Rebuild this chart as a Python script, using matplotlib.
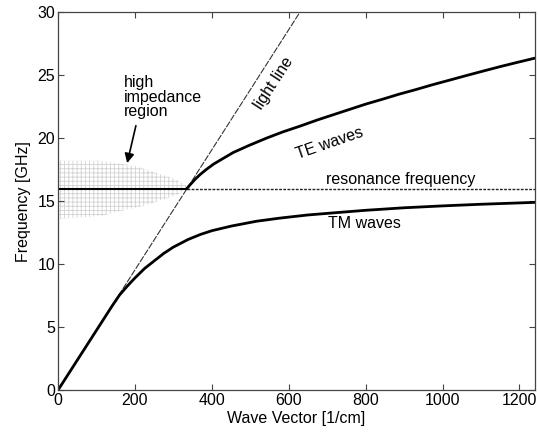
import matplotlib
matplotlib.use("Agg")
import matplotlib.pyplot as plt
from matplotlib.patches import Polygon

plt.rcParams['font.family'] = ['Liberation Sans', 'DejaVu Sans']
plt.rcParams['hatch.linewidth'] = 0.6

# Dispersion data: wave vector k [1/cm] and frequency [GHz]
tm_k = [0, 80, 140, 160, 180, 200, 225, 252, 275, 300, 338, 370, 400, 451,
        516, 577, 650, 730, 800, 900, 1000, 1100, 1240]
tm_f = [0, 3.8, 6.65, 7.55, 8.25, 8.9, 9.65, 10.3, 10.85, 11.35, 11.95, 12.35,
        12.65, 13.02, 13.4, 13.65, 13.9, 14.1, 14.27, 14.47, 14.62, 14.75, 14.9]

te_k = [335, 345, 357, 369, 385, 405, 430, 455, 495, 542, 585, 629, 675, 715,
        760, 800, 845, 888, 930, 975, 1020, 1062, 1105, 1150, 1195, 1240]
te_f = [16.0, 16.35, 16.75, 17.1, 17.5, 17.95, 18.4, 18.85, 19.4, 20.0, 20.5,
        20.95, 21.45, 21.85, 22.3, 22.7, 23.1, 23.5, 23.85, 24.25, 24.62, 24.97,
        25.32, 25.68, 26.02, 26.35]

light_k = [0, 629]
light_f = [0, 30]

resonance_f = 16.0
resonance_cross_k = 335
k_max = 1240

# Outline of the high impedance band
band_k = [0, 110, 200, 260, 300, 330, 345, 310, 260, 220, 160, 110, 0]
band_f = [18.2, 18.2, 17.8, 17.2, 16.8, 16.3, 16.0, 15.5, 15.0, 14.6, 14.2, 13.8, 13.6]

x_ticks = [0, 200, 400, 600, 800, 1000, 1200]
y_ticks = [0, 5, 10, 15, 20, 25, 30]

fig = plt.figure(figsize=(5.38, 4.36), dpi=100)
ax = fig.add_axes([0.108, 0.1055, 0.886, 0.8665])

band = Polygon(list(zip(band_k, band_f)), closed=True, facecolor='none',
               edgecolor='#d2d2d2', hatch='++++', linewidth=0)
ax.add_patch(band)

ax.plot(light_k, light_f, color='#333333', lw=0.8, dashes=(6, 1.2))
ax.plot([0, resonance_cross_k], [resonance_f, resonance_f], color='black', lw=1.5)
ax.plot([resonance_cross_k, k_max], [resonance_f, resonance_f], color='#222222',
        lw=1.0, dashes=(2, 1))
ax.plot(tm_k, tm_f, color='black', lw=2.0, solid_capstyle='round',
        solid_joinstyle='round')
ax.plot(te_k, te_f, color='black', lw=2.0, solid_capstyle='round',
        solid_joinstyle='round')

fs = 11.5
ax.text(170, 25.0, 'high\nimpedance\nregion', fontsize=fs, ha='left', va='top',
        linespacing=0.95)
ax.annotate('', xy=(178, 17.8), xytext=(204, 21.2),
            arrowprops=dict(arrowstyle='-|>', color='black', lw=1.2,
                            mutation_scale=14))
ax.text(560, 24.4, 'light line', fontsize=fs, rotation=57, ha='center', va='center',
        rotation_mode='anchor')
ax.text(706, 19.6, 'TE waves', fontsize=fs, rotation=19, ha='center', va='center',
        rotation_mode='anchor')
ax.text(890, 16.75, 'resonance frequency', fontsize=fs, ha='center', va='center')
ax.text(797, 13.25, 'TM waves', fontsize=fs, ha='center', va='center')

ax.set_xlim(0, k_max)
ax.set_ylim(0, 30)
ax.set_xticks(x_ticks)
ax.set_yticks(y_ticks)
ax.tick_params(direction='in', top=True, right=True, length=4, width=0.8,
               labelsize=fs, color='#444444', pad=2)
for s in ax.spines.values():
    s.set_color('#444444')
    s.set_linewidth(0.9)

ax.set_xlabel('Wave Vector [1/cm]', fontsize=fs, labelpad=2)
ax.set_ylabel('Frequency [GHz]', fontsize=fs, labelpad=5)

fig.savefig('out.png', dpi=100)
